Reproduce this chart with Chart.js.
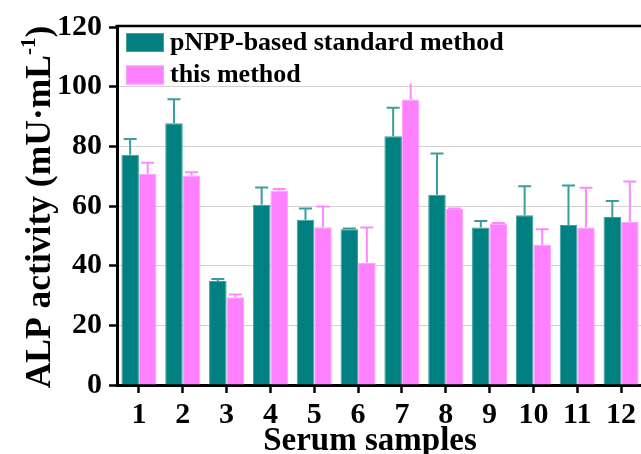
<!DOCTYPE html>
<html>
<head>
<meta charset="utf-8">
<script src="https://cdn.jsdelivr.net/npm/chart.js@4/dist/chart.umd.min.js"></script>
<style>
  html, body { margin: 0; padding: 0; background: #fff; overflow: hidden; }
  canvas { display: block; }
</style>
</head>
<body>
<canvas id="alpChart" width="643" height="454"></canvas>
<script>
// ---- data ----
const categories = ['1', '2', '3', '4', '5', '6', '7', '8', '9', '10', '11', '12'];
const standardValues = [77.2, 87.7, 34.9, 60.4, 55.4, 52.2, 83.4, 63.8, 52.8, 56.9, 53.6, 56.3];
const standardErrors = [5.3, 8.1, 0.6, 5.8, 3.8, 0.3, 9.5, 13.8, 2.2, 9.7, 13.3, 5.4];
const thisValues = [70.8, 70.2, 29.4, 65.2, 52.9, 41.0, 95.7, 59.0, 54.1, 47.0, 52.8, 54.7];
const thisErrors = [3.7, 1.1, 0.9, 0.5, 6.9, 11.8, 6.5, 0.2, 0.2, 5.2, 13.3, 13.5];
const seriesLabels = ['pNPP-based standard method', 'this method'];
const yTicks = [0, 20, 40, 60, 80, 100, 120];

const SERIF = "'Liberation Serif', 'Times New Roman', serif";
const TEAL = '#008080';
const PINK = '#FF80FF';

// error bars (upper half only, like the original) + legend block
const errorBars = {
  id: 'errorBars',
  afterDatasetsDraw(chart) {
    const ctx = chart.ctx;
    const y = chart.scales.y;
    chart.data.datasets.forEach((ds, i) => {
      const meta = chart.getDatasetMeta(i);
      ctx.save();
      ctx.strokeStyle = ds.errorColor;
      ctx.lineWidth = 2;
      meta.data.forEach((bar, j) => {
        const top = y.getPixelForValue(ds.data[j] + ds.errors[j]);
        ctx.beginPath();
        ctx.moveTo(bar.x, bar.y);
        ctx.lineTo(bar.x, top);
        ctx.moveTo(bar.x - 6.5, top);
        ctx.lineTo(bar.x + 6.5, top);
        ctx.stroke();
      });
      ctx.restore();
    });

    const area = chart.chartArea;
    ctx.save();
    ctx.fillStyle = '#fff';
    ctx.fillRect(area.left + 2, area.top, area.right - area.left, 56.5);
    ctx.font = 'bold 26px ' + SERIF;
    ctx.textBaseline = 'middle';
    chart.data.datasets.forEach((ds, i) => {
      const by = area.top + 6 + i * 32.5;
      ctx.fillStyle = ds.backgroundColor;
      ctx.fillRect(126, by, 38, 19);
      ctx.strokeStyle = ds.borderColor;
      ctx.lineWidth = 1;
      ctx.strokeRect(126.5, by + 0.5, 37, 18);
      ctx.fillStyle = '#000';
      ctx.fillText(ds.label, 170, by + 10);
    });
    ctx.restore();
  },
  afterDraw(chart) {
    const ctx = chart.ctx;
    const area = chart.chartArea;
    ctx.save();
    // top frame line
    ctx.strokeStyle = '#000';
    ctx.lineWidth = 2.5;
    ctx.beginPath();
    ctx.moveTo(area.left - 1.5, area.top - 1);
    ctx.lineTo(area.right, area.top - 1);
    ctx.stroke();

    // x axis title
    ctx.fillStyle = '#000';
    ctx.font = 'bold 33px ' + SERIF;
    ctx.textAlign = 'center';
    ctx.textBaseline = 'alphabetic';
    ctx.fillText('Serum samples', 370, 450);

    // y axis title with superscript
    const big = 'bold 35.5px ' + SERIF;
    const small = 'bold 21px ' + SERIF;
    const parts = [
      { t: 'ALP activity (mU\u00B7mL', f: big, dy: 0 },
      { t: '-1', f: small, dy: -15 },
      { t: ')', f: big, dy: 0 }
    ];
    let total = 0;
    parts.forEach(p => { ctx.font = p.f; p.w = ctx.measureText(p.t).width; total += p.w; });
    ctx.translate(50, 207);
    ctx.rotate(-Math.PI / 2);
    ctx.textAlign = 'left';
    let u = -total / 2;
    parts.forEach(p => {
      ctx.font = p.f;
      ctx.fillText(p.t, u, p.dy);
      u += p.w;
    });
    ctx.restore();
  }
};

new Chart(document.getElementById('alpChart'), {
  type: 'bar',
  data: {
    labels: categories,
    datasets: [
      {
        label: seriesLabels[0],
        data: standardValues,
        errors: standardErrors,
        backgroundColor: TEAL,
        borderColor: '#3d9f9f',
        errorColor: '#3a9e9e',
        borderWidth: 1,
        categoryPercentage: 0.8,
        barPercentage: 1.0
      },
      {
        label: seriesLabels[1],
        data: thisValues,
        errors: thisErrors,
        backgroundColor: PINK,
        borderColor: '#ff9cff',
        errorColor: '#ff88ff',
        borderWidth: 1,
        categoryPercentage: 0.8,
        barPercentage: 1.0
      }
    ]
  },
  options: {
    responsive: false,
    animation: false,
    devicePixelRatio: 1,
    layout: { padding: { top: 27, right: 0, bottom: 0, left: 0 } },
    plugins: {
      legend: { display: false },
      tooltip: { enabled: false }
    },
    scales: {
      x: {
        offset: true,
        grid: {
          offset: false,
          drawOnChartArea: false,
          drawTicks: true,
          tickLength: 8,
          tickColor: '#000',
          tickWidth: 2.5
        },
        border: { color: '#000', width: 3 },
        ticks: {
          color: '#000',
          font: { family: SERIF, size: 30, weight: 'bold' },
          padding: 4,
          maxRotation: 0,
          autoSkip: false
        },
        afterFit(scale) { scale.height = 69; }
      },
      y: {
        min: 0,
        max: 120,
        afterBuildTicks(scale) { scale.ticks = yTicks.map(v => ({ value: v })); },
        grid: {
          color: '#d2d2d2',
          lineWidth: 1,
          drawTicks: true,
          tickLength: 8,
          tickColor: '#000',
          tickWidth: 2.5
        },
        border: { color: '#000', width: 3 },
        ticks: {
          color: '#000',
          font: { family: SERIF, size: 30, weight: 'bold' },
          padding: 7
        },
        afterFit(scale) { scale.width = 117; }
      }
    }
  },
  plugins: [errorBars]
});
</script>
</body>
</html>
